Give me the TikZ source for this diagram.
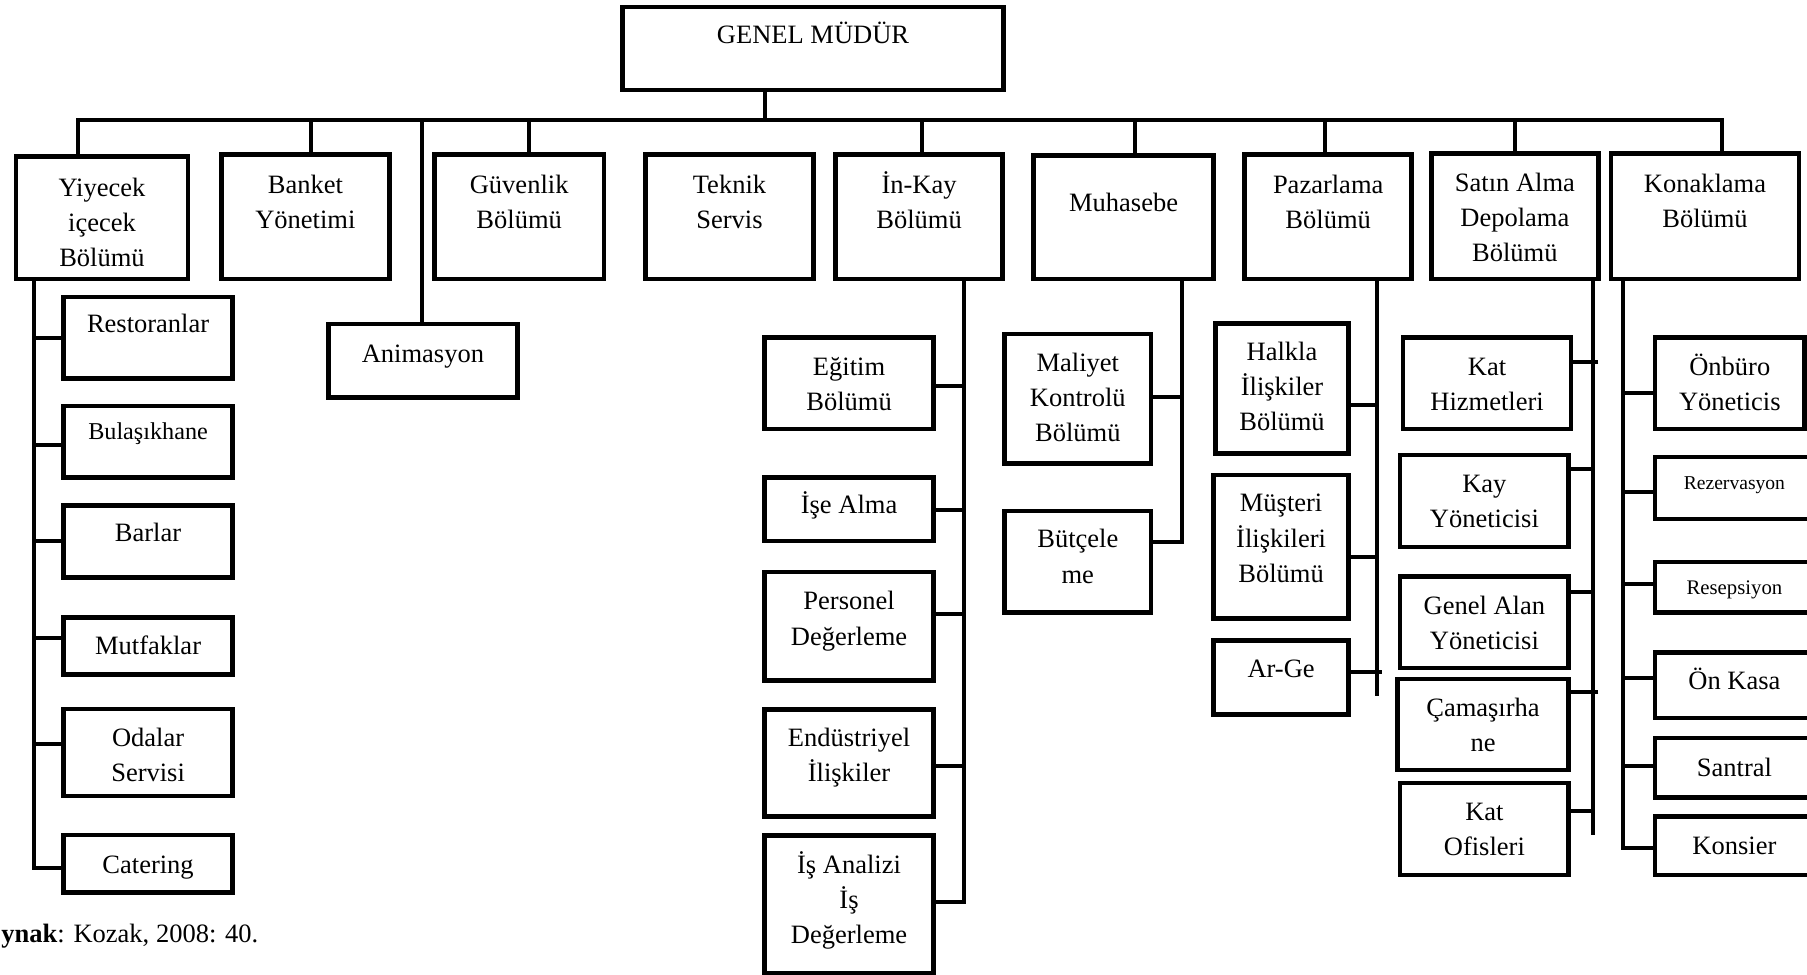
\documentclass[tikz,border=0pt]{standalone}
\usepackage{fontspec}
\setmainfont{Liberation Serif}

% box with its text: [text style]{name}{x1}{y1}{x2}{y2}{first baseline}{text}
\newcommand{\orgbox}[8][]{%
  \node[obox, minimum width={#5-#3}, minimum height={#6-#4}] (#2) at ({(#3+#5)/2},{(#4+#6)/2}) {};
  \node[otext, anchor=north, #1] (#2-t) at ({(#3+#5)/2},{#7-21.35}) {\strut #8};
}
% horizontal tie from a branch line to a box, at height y
\newcommand{\tie}[3]{\draw[conn] (#1 |- 0,#3) -- (#2 |- 0,#3);}

\begin{document}
\begin{tikzpicture}[x=1pt,y=-1pt,
  obox/.style={draw=black, line width=4pt, inner sep=0pt, outer sep=0pt, fill=white},
  otext/.style={inner sep=0pt, align=center, font=\fontsize{23}{30.5}\selectfont},
  conn/.style={draw=black, line width=3.5pt, line join=miter, line cap=butt}]
\useasboundingbox (0,0) rectangle (1568,846);
\fill[white] (0,0) rectangle (1568,846);

% ---- branch points on the main bar ----
\coordinate (dgm) at (664,104);
\coordinate (dyiy) at (67.3,104);
\coordinate (dban) at (270,104);
\coordinate (dani) at (366,104);
\coordinate (dguv) at (459,104);
\coordinate (dink) at (800,104);
\coordinate (dmuh) at (985,104);
\coordinate (dpaz) at (1150,104);
\coordinate (dsat) at (1314.5,104);
\coordinate (dkon) at (1494,104);

% ---- branch lines below the departments ----
\coordinate (v1) at (29.3,0);
\coordinate (v2) at (836.2,0);
\coordinate (v3) at (1025.7,0);
\coordinate (v4) at (1195,0);
\coordinate (v5) at (1382,0);
\coordinate (v6) at (1408.7,0);

% ---- boxes ----
\orgbox{gm}{540}{6}{871}{78}{37.5}{GENEL MÜDÜR}

\orgbox{yiy}{14}{136}{163}{242}{170}{Yiyecek\\içecek\\Bölümü}
\orgbox{ban}{192}{134}{338}{242}{167.5}{Banket\\Yönetimi}
\orgbox{guv}{377}{134}{524}{242}{167.5}{Güvenlik\\Bölümü}
\orgbox{tek}{560}{134}{706}{242}{167.5}{Teknik\\Servis}
\orgbox{ink}{725}{134}{870}{242}{167.5}{İn-Kay\\Bölümü}
\orgbox{muh}{897}{135}{1053}{242}{183}{Muhasebe}
\orgbox{paz}{1080}{134}{1225}{242}{167.5}{Pazarlama\\Bölümü}
\orgbox{sat}{1242}{133}{1387}{242}{166}{Satın Alma\\Depolama\\Bölümü}
\orgbox{kon}{1398}{133}{1561}{242}{166.7}{Konaklama\\Bölümü}

% ---- connectors from the general manager ----
\draw[conn] (dgm |- gm.south) -- (dgm);
\draw[conn] (dyiy |- yiy.north) -- (dyiy) -- (dkon) -- (dkon |- kon.north);
\draw[conn] (dban) -- (dban |- ban.north);
\draw[conn] (dguv) -- (dguv |- guv.north);
\draw[conn] (dink) -- (dink |- ink.north);
\draw[conn] (dmuh) -- (dmuh |- muh.north);
\draw[conn] (dpaz) -- (dpaz |- paz.north);
\draw[conn] (dsat) -- (dsat |- sat.north);

% ---- food and beverage ----
\draw[conn] (v1 |- yiy.south) -- (v1 |- 0,753.6) -- (55,753.6);
\tie{v1}{55,0}{293}
\tie{v1}{55,0}{386}
\tie{v1}{55,0}{469.5}
\tie{v1}{55,0}{554}
\tie{v1}{55,0}{646}
\orgbox{res}{55}{257.6}{202}{328.2}{288.4}{Restoranlar}
\orgbox[font=\fontsize{21}{30.5}\selectfont]{bul}{55}{352.3}{202}{414.6}{381}{Bulaşıkhane}
\orgbox{bar}{55}{438.8}{202}{501}{470}{Barlar}
\orgbox{mut}{55}{536}{202}{585.5}{567.5}{Mutfaklar}
\orgbox{oda}{55}{615.3}{202}{690.8}{647.4}{Odalar\\Servisi}
\orgbox{cat}{55}{724.6}{202}{774.7}{757.6}{Catering}

% ---- animation ----
\draw[conn] (dani) -- (dani |- 0,281);
\orgbox{ani}{285}{281}{449}{345}{314}{Animasyon}

% ---- human resources ----
\draw[conn] (v2 |- ink.south) -- (v2 |- 0,782.5) -- (810.2,782.5);
\tie{v2}{810.2,0}{335.1}
\tie{v2}{810.2,0}{442.6}
\tie{v2}{810.2,0}{532.8}
\tie{v2}{810.2,0}{664.5}
\orgbox{egi}{663.3}{292.9}{810.2}{372.4}{325.6}{Eğitim\\Bölümü}
\orgbox{ise}{663.3}{414.6}{810.2}{469.5}{445.8}{İşe Alma}
\orgbox{per}{663.3}{496.4}{810.2}{590.4}{529}{Personel\\Değerleme}
\orgbox{end}{663.3}{615.4}{810.2}{708.7}{647.4}{Endüstriyel\\İlişkiler}
\orgbox{isa}{663.3}{724.8}{810.2}{844.5}{757.6}{İş Analizi\\İş\\Değerleme}

% ---- accounting ----
\draw[conn] (v3 |- muh.south) -- (v3 |- 0,470.7) -- (998.8,470.7);
\tie{v3}{998.8,0}{344.8}
\orgbox{mal}{871.7}{289.8}{998.8}{402.3}{321.8}{Maliyet\\Kontrolü\\Bölümü}
\orgbox{but}{871.7}{443.4}{998.8}{531.7}{475.3}{Bütçele\\me}

% ---- marketing ----
\draw[conn] (v4 |- paz.south) -- (v4 |- 0,604);
\tie{v4}{1170.3,0}{351.3}
\tie{v4}{1170.3,0}{483}
\draw[conn] (1199,582.8) -- (1170.3,582.8);
\orgbox{hal}{1054.6}{280.6}{1170.3}{393.5}{312.5}{Halkla\\İlişkiler\\Bölümü}
\orgbox{mus}{1053}{412}{1170.3}{536.7}{444}{Müşteri\\İlişkileri\\Bölümü}
\orgbox{arg}{1053}{555.9}{1170.3}{620}{588}{Ar-Ge}

% ---- purchasing and storage ----
\draw[conn] (v5 |- sat.south) -- (v5 |- 0,724.8);
\draw[conn] (1387,314) -- (1363.2,314);
\tie{v5}{1361.2,0}{407.3}
\tie{v5}{1361.2,0}{513.7}
\draw[conn] (1387,600.8) -- (1361.2,600.8);
\tie{v5}{1361.2,0}{703.8}
\orgbox{kat}{1217.5}{292.9}{1363.2}{372.4}{325.6}{Kat\\Hizmetleri}
\orgbox{kay}{1214.9}{394.7}{1361.2}{474.5}{427.3}{Kay\\Yöneticisi}
\orgbox{gen}{1214.9}{500.3}{1361.2}{579.7}{532.9}{Genel Alan\\Yöneticisi}
\orgbox{cam}{1212.5}{589.2}{1361.2}{668}{621.3}{Çamaşırha\\ne}
\orgbox{ofi}{1214.9}{679.5}{1361.2}{759.3}{711.9}{Kat\\Ofisleri}

% ---- accommodation ----
\draw[conn] (v6 |- kon.south) -- (v6 |- 0,735.6) -- (1436,735.6);
\tie{v6}{1436,0}{340.9}
\tie{v6}{1436,0}{427.3}
\tie{v6}{1436,0}{507.1}
\tie{v6}{1436,0}{588.5}
\tie{v6}{1436,0}{664.5}
\orgbox{onb}{1436}{292.9}{1566}{372.4}{325.6}{Önbüro\\Yöneticis}
\orgbox[font=\fontsize{17}{30.5}\selectfont]{rez}{1436}{396.6}{1574}{450.4}{424.5}{Rezervasyon}
\orgbox[font=\fontsize{18}{30.5}\selectfont]{rsp}{1436}{487.6}{1574}{531.7}{515.8}{Resepsiyon}
\orgbox{onk}{1436}{566.3}{1574}{623.1}{598}{Ön Kasa}
\orgbox{san}{1436}{640.4}{1574}{692.2}{673.4}{Santral}
\orgbox{kns}{1436}{708.4}{1574}{759.3}{741.5}{Konsier}

% ---- source line ----
\node[anchor=base west, inner sep=0pt, font=\fontsize{23}{28}\selectfont] (src) at (1,818) {\textbf{ynak}: Kozak, 2008: 40.};
\end{tikzpicture}
\end{document}
